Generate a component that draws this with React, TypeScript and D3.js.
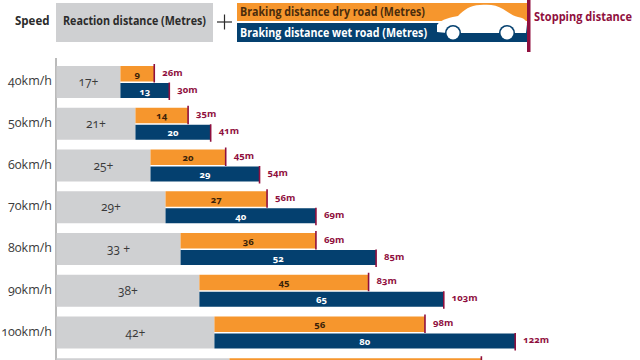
import React from "react";
import * as d3 from "d3";

const speeds = ["40km/h", "50km/h", "60km/h", "70km/h", "80km/h", "90km/h", "100km/h", "110km/h"];
const reaction = [17, 21, 25, 29, 33, 38, 42, 46];
const reactionLabels = ["17+", "21+", "25+", "29+", "33 +", "38+", "42+", "46+"];
const dry = [9, 14, 20, 27, 36, 45, 56, 67];
const wet = [13, 20, 29, 40, 52, 65, 80, 97];
const dryTotal = [26, 35, 45, 56, 69, 83, 98, 113];
const wetTotal = [30, 41, 54, 69, 85, 103, 122, 143];

const GRAY = "#cfd0d2";
const ORANGE = "#f6962d";
const NAVY = "#04406f";
const CRIMSON = "#8f0f3e";
const INK = "#3a3a3a";
const FONT = "'Open Sans', Lato, sans-serif";

const x = d3.scaleLinear().domain([0, 100]).range([56.5, 432.5]);
const y = d3.scaleLinear().domain([0, speeds.length]).range([66, 66 + 41.75 * speeds.length]);
const oldNums: React.CSSProperties = { fontVariantNumeric: "oldstyle-nums", fontFamily: FONT };

const carPath =
  "M437 31 L437 25 C441 19 452 17 458 16 C464 10 470 5 480 5 C490 4 497 5 503 9 C508 12 513 16 518 17 C524 18 527 21 527 24 L526 33 L516 33 L500 33 L470 33 L447 33 L437 32 Z";

export default function App() {
  return (
    <svg width={640} height={360} viewBox="0 0 640 360" style={{ position: "absolute", left: 0, top: 0, background: "#fff" }}>
      {/* key */}
      <text x={15} y={25} fontFamily={FONT} fontSize={11.5} fontWeight={700} fill="#2b2b2b">Speed</text>
      <rect x={56} y={3} width={157} height={39} fill={GRAY} />
      <text x={63} y={25} fontFamily={FONT} fontSize={12} fontWeight={700} fill="#2b2b2b" textLength={143} lengthAdjust="spacingAndGlyphs">Reaction distance (Metres)</text>
      <line x1={217} x2={232} y1={22} y2={22} stroke="#2b2b2b" strokeWidth={1.2} />
      <line x1={224.5} x2={224.5} y1={14.5} y2={29.5} stroke="#2b2b2b" strokeWidth={1.2} />
      <rect x={237} y={3} width={290} height={18} fill={ORANGE} />
      <rect x={237} y={23} width={290} height={19} fill={NAVY} />
      <text x={240} y={16} fontFamily={FONT} fontSize={12} fontWeight={700} fill="#4a2c0c" textLength={185} lengthAdjust="spacingAndGlyphs">Braking distance dry road (Metres)</text>
      <text x={240} y={37} fontFamily={FONT} fontSize={12} fontWeight={700} fill="#fff" textLength={187} lengthAdjust="spacingAndGlyphs">Braking distance wet road (Metres)</text>
      <path d={carPath} fill="#fff" />
      <circle cx={453} cy={33} r={8} fill={NAVY} />
      <circle cx={453} cy={33} r={6.5} fill="#fff" />
      <circle cx={507} cy={33} r={8} fill={NAVY} />
      <circle cx={507} cy={33} r={6.5} fill="#fff" />
      <rect x={527} y={0} width={3.5} height={52} fill={CRIMSON} />
      <text x={534} y={21} fontFamily={FONT} fontSize={12} fontWeight={700} fill={CRIMSON} textLength={98} lengthAdjust="spacingAndGlyphs">Stopping distance</text>

      {/* axis */}
      <line x1={56} x2={56} y1={58} y2={360} stroke="#777" strokeWidth={1} />

      {speeds.map((s, i) => {
        const top = y(i);
        const x0 = x(0);
        const x1 = x(reaction[i]);
        const xd = x(dryTotal[i]);
        const xw = x(wetTotal[i]);
        const visible = top + 34 < 360;
        return (
          <g key={s}>
            <rect x={x0} y={top} width={x1 - x0} height={32} fill={GRAY} />
            <rect x={x1} y={top} width={xd - x1} height={15.5} fill={ORANGE} />
            <rect x={x1} y={top + 17} width={xw - x1} height={15} fill={NAVY} />
            <line x1={xd} x2={xd} y1={top - 2} y2={top + 16.5} stroke={CRIMSON} strokeWidth={1.6} />
            {visible && (
              <>
                <line x1={xw} x2={xw} y1={top + 16.5} y2={top + 34} stroke={CRIMSON} strokeWidth={1.6} />
                <text x={52} y={top + 19} textAnchor="end" fontSize={12.5} fill={INK} style={oldNums}>{s}</text>
                <text x={(x0 + x1) / 2} y={top + 20} textAnchor="middle" fontSize={12} fill={INK} style={oldNums}>{reactionLabels[i]}</text>
                <text x={(x1 + xd) / 2} y={top + 11.5} textAnchor="middle" fontSize={9.5} fontWeight={700} fill="#3a2208" style={oldNums}>{dry[i]}</text>
                <text x={(x1 + xw) / 2} y={top + 28.5} textAnchor="middle" fontSize={9.5} fontWeight={700} fill="#fff" style={oldNums}>{wet[i]}</text>
                <text x={xd + 8} y={top + 9.5} fontSize={9.5} fontWeight={700} fill={CRIMSON} style={oldNums}>{dryTotal[i]}m</text>
                <text x={xw + 8} y={top + 26.5} fontSize={9.5} fontWeight={700} fill={CRIMSON} style={oldNums}>{wetTotal[i]}m</text>
              </>
            )}
          </g>
        );
      })}
    </svg>
  );
}
